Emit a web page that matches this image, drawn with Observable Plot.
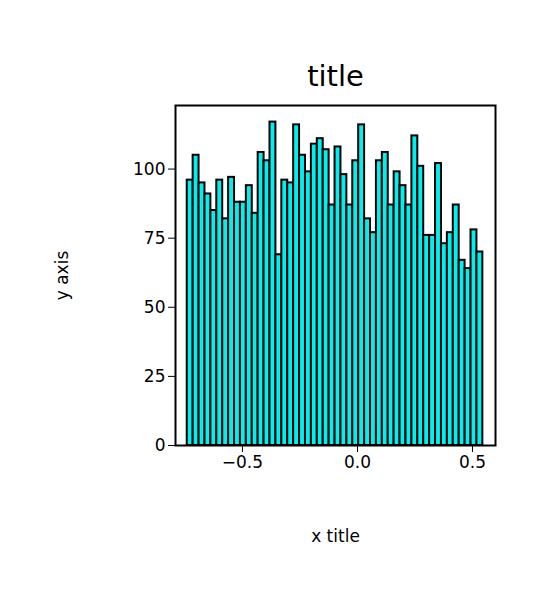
<!DOCTYPE html>
<html><head>
<script src="https://cdn.jsdelivr.net/npm/d3@7"></script>
<script src="https://cdn.jsdelivr.net/npm/@observablehq/plot@0.6"></script>
<style>body{margin:0;background:#fff;} svg{font-family:"DejaVu Sans";}</style>
</head><body>
<div id="chart"></div>
<script>
const binMin = -0.74;
const binWidth = 0.0257;
const counts = [96,105,95,91,85,96,82,97,88,88,94,84,106,103,117,69,96,95,116,105,99,109,111,107,87,108,98,87,103,116,82,77,103,106,87,99,94,87,112,101,76,76,102,73,77,87,67,64,78,70];
const yTicks = [0,25,50,75,100];
const xTicks = [-0.5,0,0.5];
const data = counts.map((c,i)=>({x1: binMin + i*binWidth, x2: binMin + (i+1)*binWidth, y: c}));
const fmt = d => d3.format(".1f")(d).replace("-", "−");
const plot = Plot.plot({
  width: 540, height: 600,
  marginLeft: 175, marginRight: 45, marginTop: 105, marginBottom: 155,
  style: {fontSize: "17px", fontFamily: "DejaVu Sans", color: "#000", background: "#fff"},
  x: {domain: [-0.791, 0.6]},
  y: {domain: [0, 123]},
  marks: [
    Plot.rectY(data, {x1: "x1", x2: "x2", y: "y", fill: "#00f0f0", stroke: "#000", strokeWidth: 2}),
    Plot.frame({stroke: "#000", strokeWidth: 2}),
    Plot.axisX({ticks: xTicks, tickSize: 7, tickFormat: fmt, label: "x title", labelAnchor: "center", labelOffset: 96, labelArrow: "none", fontSize: 17}),
    Plot.axisY({ticks: yTicks, tickSize: 7, label: "y axis", labelAnchor: "center", labelOffset: 120, labelArrow: "none", fontSize: 17}),
    Plot.text(["title"], {frameAnchor: "top", dy: -40, fontSize: 29})
  ]
});
document.getElementById("chart").append(plot);
</script>
</body></html>
